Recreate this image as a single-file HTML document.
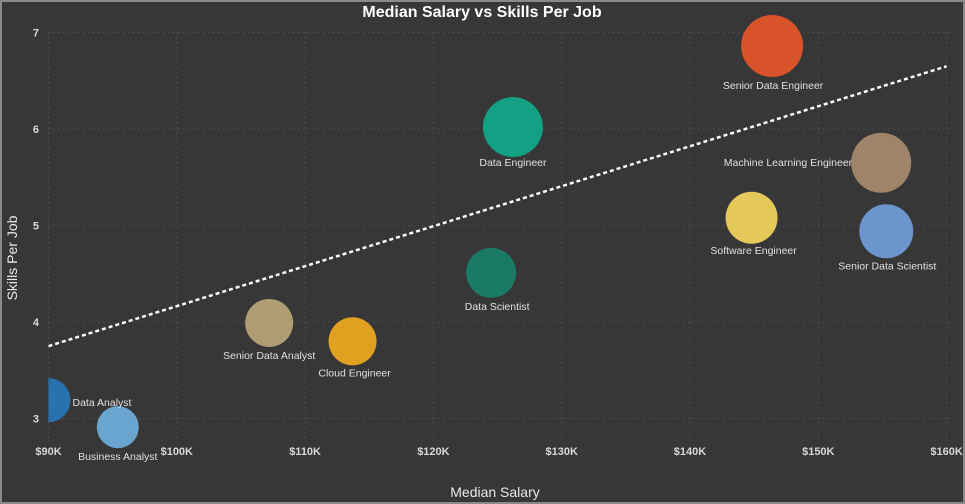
<!DOCTYPE html>
<html><head><meta charset="utf-8"><style>
html,body{margin:0;padding:0;background:#373737;}
svg{display:block;font-family:"Liberation Sans",sans-serif;}
</style></head><body>
<svg id="chart" width="965" height="504">
<rect x="1" y="1" width="963" height="502" fill="#373737" stroke="#8a8a8a" stroke-width="2"/>
<text x="482" y="17" text-anchor="middle" fill="#fff" font-size="16" font-weight="bold">Median Salary vs Skills Per Job</text>
<text x="495" y="497" text-anchor="middle" fill="#e8e8e8" font-size="14">Median Salary</text>
<text transform="translate(17,258) rotate(-90)" text-anchor="middle" fill="#e8e8e8" font-size="14">Skills Per Job</text>
<g id="grid"></g><g id="ticks"></g>
<defs><clipPath id="plotclip"><rect x="48.5" y="0" width="910" height="470"/></clipPath></defs>
<g id="marks" clip-path="url(#plotclip)"></g>
<g id="labels"></g>
</svg>
<script>
const jobs=["Data Analyst","Business Analyst","Senior Data Analyst","Cloud Engineer","Data Scientist","Data Engineer","Senior Data Engineer","Software Engineer","Machine Learning Engineer","Senior Data Scientist"];
const salaries=[90000,95400,107200,113700,124500,126200,146400,144800,154900,155300];
const skills=[3.19,2.91,3.99,3.80,4.51,6.02,6.86,5.08,5.65,4.94];
const xTicks=[90000,100000,110000,120000,130000,140000,150000,160000];
const xTickLabels=["$90K","$100K","$110K","$120K","$130K","$140K","$150K","$160K"];
const yTicks=[3,4,5,6,7];
const trendX=[90000,160000];
const trendY=[3.75,6.65];
const colors=["#2a71b0","#6aa5d0","#b09d74","#e0a020","#1b7a66","#14a085","#d9532a","#e4c95a","#a0846a","#6b95cc"];
const radii=[22,21,24,24,25,30,31,26,30,27];
const labelPos=[[24,2,"start"],[0,29,"middle"],[0,32,"middle"],[2,31,"middle"],[6,33,"middle"],[0,35,"middle"],[1,39,"middle"],[2,32,"middle"],[-29,-1,"end"],[1,34,"middle"]];
const ns="http://www.w3.org/2000/svg";
const xs=v=>48.5+(v-90000)/10000*128.3;
const ys=v=>32.5+(7-v)*96.5;
function mk(tag,attrs,parent){const e=document.createElementNS(ns,tag);for(const k in attrs)e.setAttribute(k,attrs[k]);document.getElementById(parent).appendChild(e);return e;}
xTicks.forEach((t,i)=>{
 const g=mk("line",{x1:xs(t),x2:xs(t),y1:32,y2:440,stroke:"#525252","stroke-dasharray":"1.5 3.5"},"grid");
 
 
 const l=mk("text",{x:xs(t),y:455,"text-anchor":"middle",fill:"#d8d8d8","font-size":11,"font-weight":"bold"},"ticks");
 l.textContent=xTickLabels[i];
 
 
});
yTicks.forEach(t=>{
 const g=mk("line",{x1:48,x2:950,y1:ys(t),y2:ys(t),stroke:"#525252","stroke-dasharray":"1.5 3.5"},"grid");
 
 
 const l=mk("text",{x:39,y:ys(t)+4,"text-anchor":"end",fill:"#d8d8d8","font-size":11,"font-weight":"bold"},"ticks");
 l.textContent=t;
 
 
});
const tr=mk("line",{x1:xs(trendX[0]),y1:ys(trendY[0]),x2:xs(trendX[1]),y2:ys(trendY[1]),stroke:"#fff","stroke-width":2.5,"stroke-dasharray":"4 3"},"marks");


jobs.forEach((j,i)=>{
 const c=mk("circle",{cx:xs(salaries[i]),cy:ys(skills[i]),r:radii[i],fill:colors[i]},"marks");
 
 
 const p=labelPos[i];
 const t=mk("text",{x:xs(salaries[i])+p[0],y:ys(skills[i])+p[1]+4,"text-anchor":p[2],fill:"#e0e0e0","font-size":10.5},"labels");
 t.textContent=j;
 
 
});
</script>
</body></html>
